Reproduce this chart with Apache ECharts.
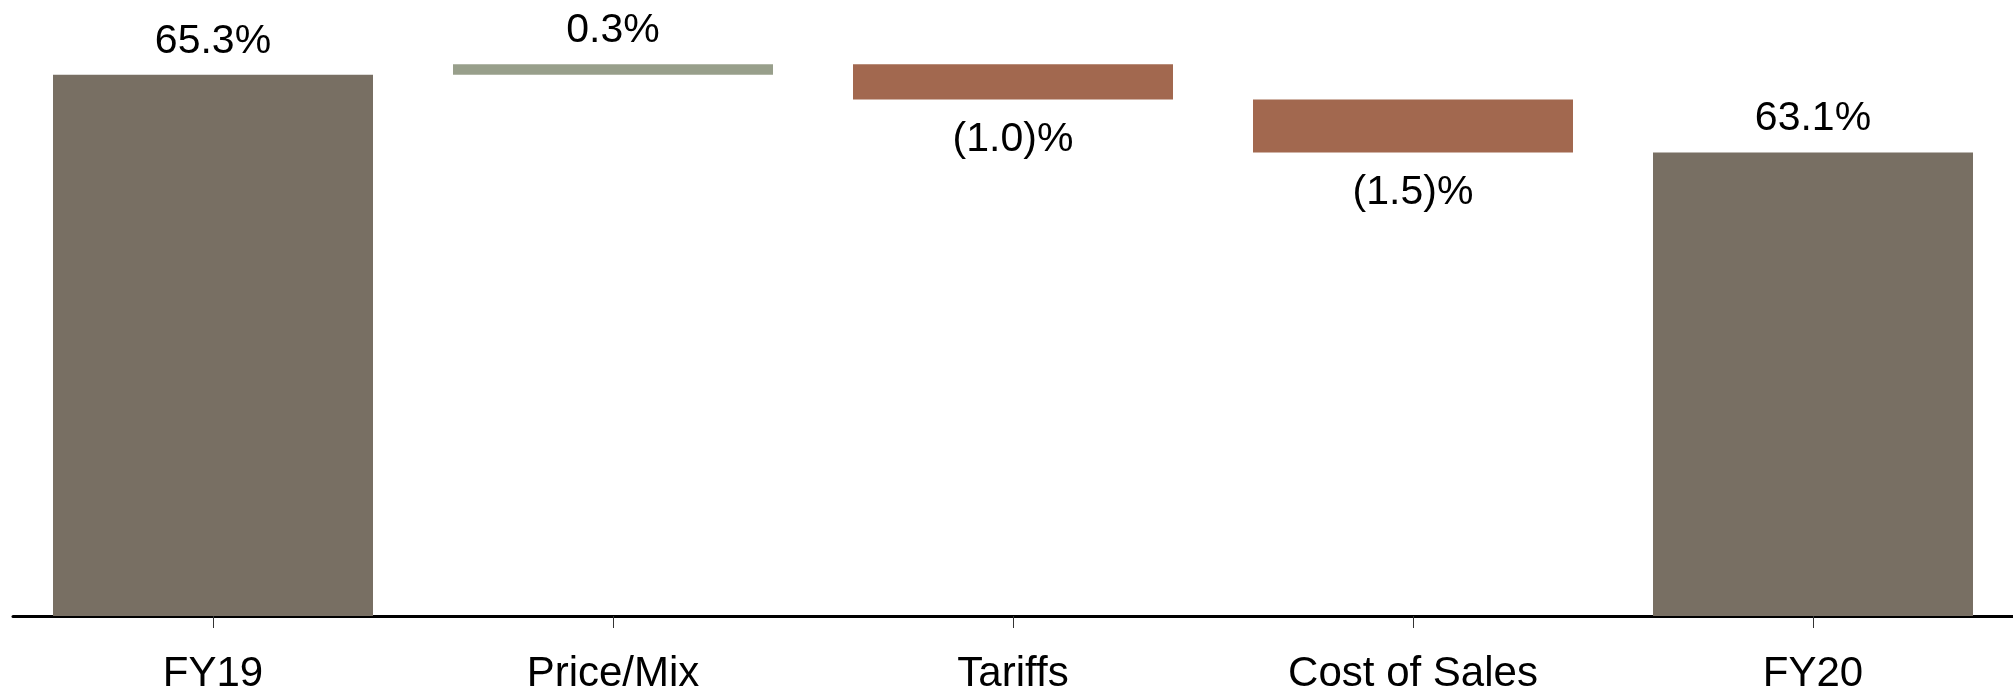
<!DOCTYPE html>
<html>
<head>
<meta charset="utf-8">
<script src="https://cdn.jsdelivr.net/npm/echarts@6/dist/echarts.min.js"></script>
<style>
html,body{margin:0;padding:0;background:#fff;}
#chart{width:2013px;height:695px;}
</style>
</head>
<body>
<div id="chart"></div>
<script>
const categories = ['FY19', 'Price/Mix', 'Tariffs', 'Cost of Sales', 'FY20'];
const kinds = ['total', 'delta', 'delta', 'delta', 'total'];
const values = [65.3, 0.3, -1.0, -1.5, 63.1];
const yMin = 50;
const yMax = 67;

const colorTotal = '#786F63';
const colorUp = '#989F8B';
const colorDown = '#A2684F';

// waterfall construction from the values
const baseData = [];
const barData = [];
let running = 0;
values.forEach((v, i) => {
  if (kinds[i] === 'total') {
    baseData.push(0);
    running = v;
    barData.push({
      value: v,
      itemStyle: { color: colorTotal },
      label: { position: 'top', distance: 13 }
    });
  } else {
    const start = running;
    const end = running + v;
    baseData.push(Math.min(start, end));
    barData.push({
      value: Math.abs(v),
      itemStyle: { color: v >= 0 ? colorUp : colorDown },
      label: v >= 0 ? { position: 'top', distance: 13 } : { position: 'bottom', distance: 20 }
    });
    running = end;
  }
});

function fmt(i) {
  const v = values[i];
  if (kinds[i] === 'delta' && v < 0) return '(' + Math.abs(v).toFixed(1) + ')%';
  return v.toFixed(1) + '%';
}

const chart = echarts.init(document.getElementById('chart'), null, { renderer: 'canvas' });
chart.setOption({
  animation: false,
  backgroundColor: '#ffffff',
  grid: { left: 13, right: 0, top: 14.6, bottom: 77.7, containLabel: false },
  xAxis: {
    type: 'category',
    data: categories,
    axisLine: { show: true, lineStyle: { color: '#000', width: 3 } },
    axisTick: { show: true, alignWithLabel: true, length: 12, lineStyle: { color: '#333', width: 1 } },
    axisLabel: { margin: 37, color: '#000', fontFamily: 'Liberation Sans, Arial, sans-serif', fontSize: 42 }
  },
  yAxis: {
    type: 'value',
    min: yMin,
    max: yMax,
    show: false,
    splitLine: { show: false }
  },
  series: [
    {
      type: 'bar',
      stack: 'wf',
      data: baseData,
      itemStyle: { color: 'transparent' },
      emphasis: { disabled: true },
      barCategoryGap: '20%',
      silent: true
    },
    {
      type: 'bar',
      stack: 'wf',
      data: barData,
      barCategoryGap: '20%',
      label: {
        show: true,
        color: '#000',
        fontFamily: 'Liberation Sans, Arial, sans-serif',
        fontSize: 41,
        formatter: p => fmt(p.dataIndex)
      }
    }
  ]
});
</script>
</body>
</html>
